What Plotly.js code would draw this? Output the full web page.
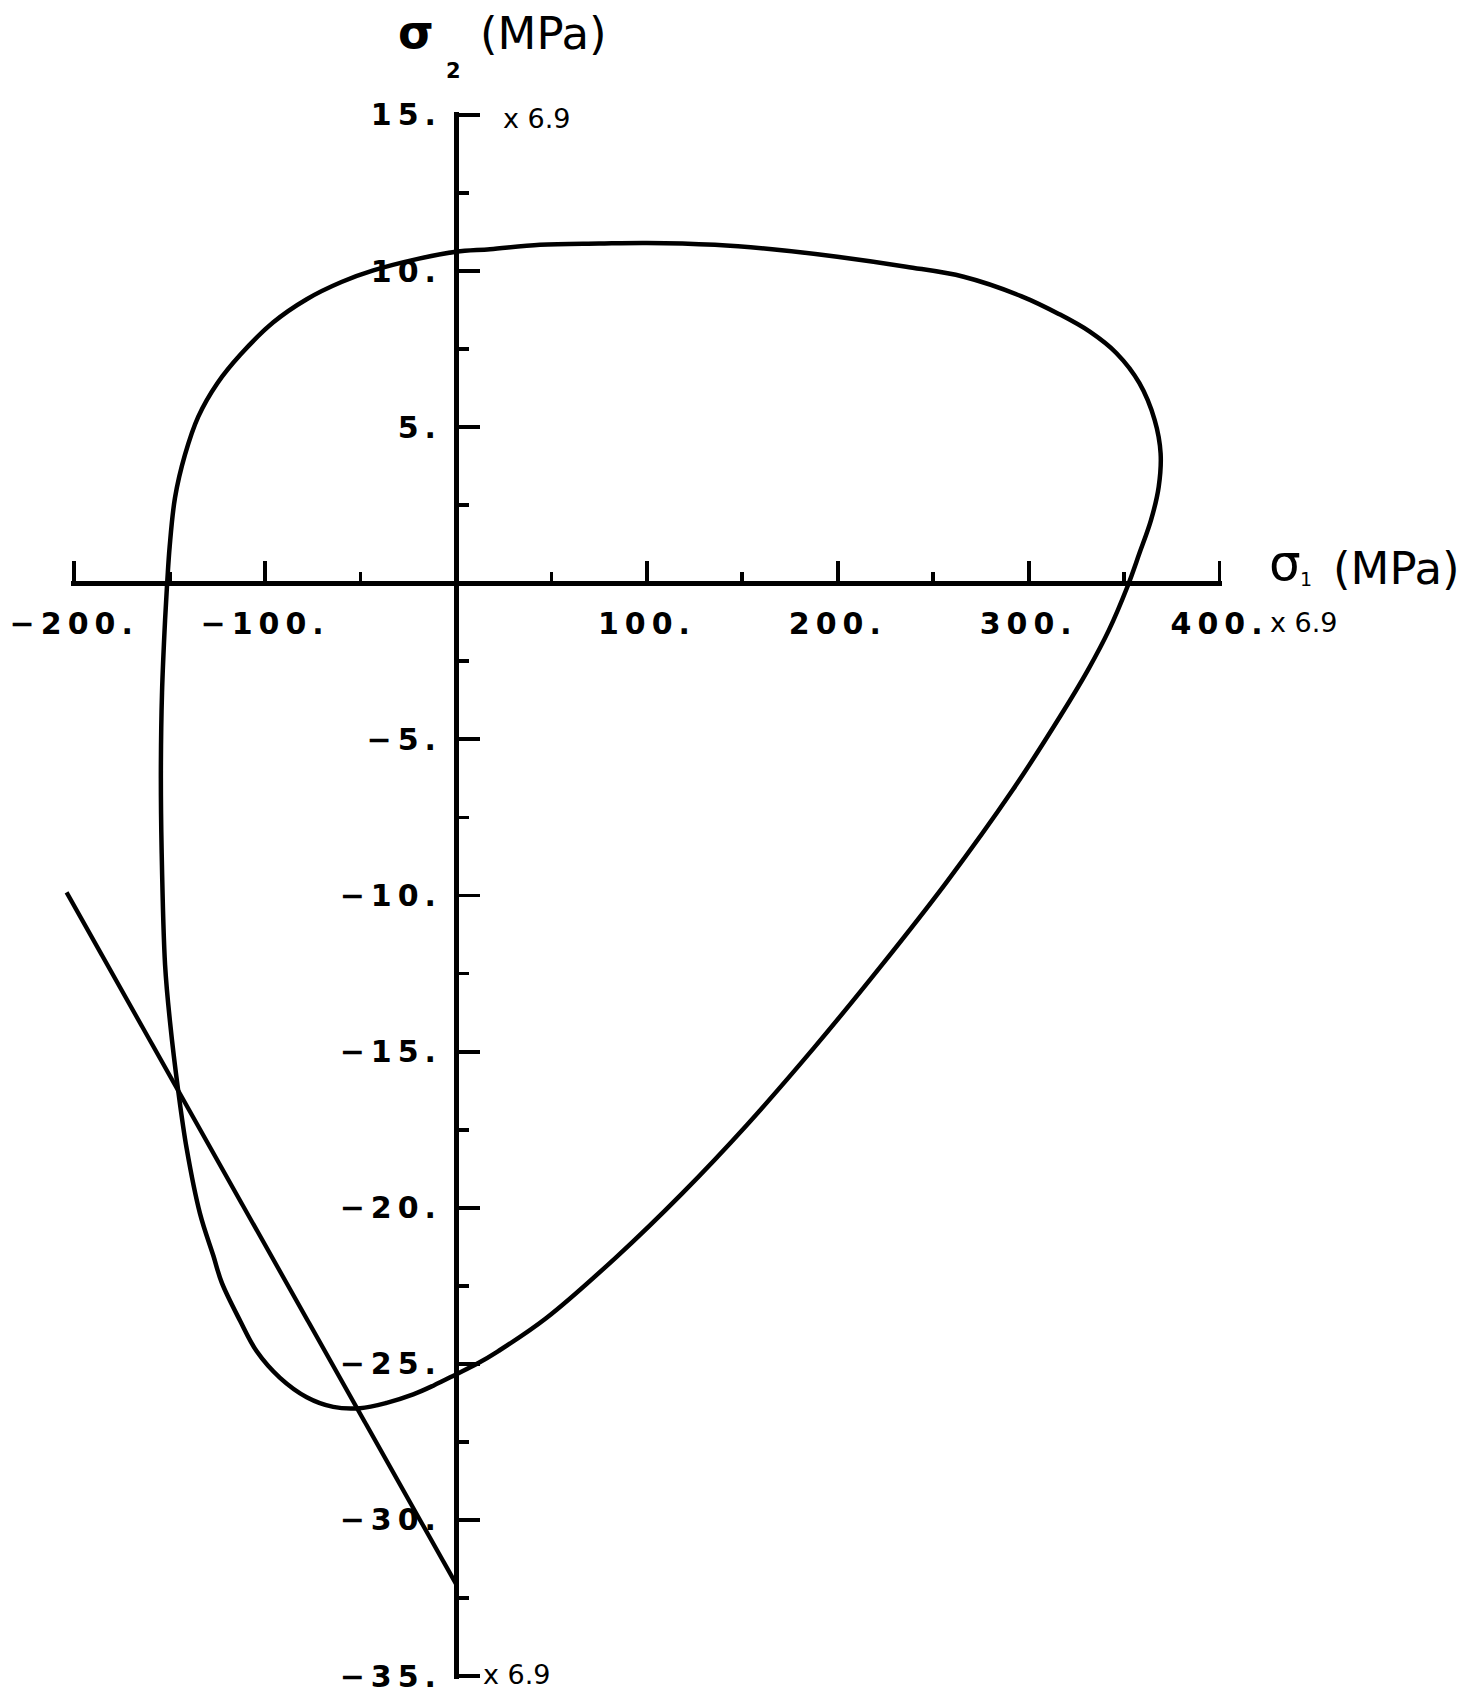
<!DOCTYPE html>
<html>
<head>
<meta charset="utf-8">
<script src="https://cdn.plot.ly/plotly-3.0.1.min.js"></script>
<style>
  html, body { margin: 0; padding: 0; background: #fff; }
  #chart { width: 1465px; height: 1695px; }
  /* wide, spaced-out tick numerals */
  g[class$="tick"] text { letter-spacing: 6px; }
</style>
</head>
<body>
<div id="chart"></div>
<script>
// Failure envelope in the (sigma1, sigma2) plane, units of ksi (x 6.9 = MPa)
const SIGMA1_LOOP = [-154.6, -154.0, -152.4, -151.2, -150.0, -147.2, -142.0, -135.0, -125.0, -113.0,
  -95.7, -78.2, -60.0, -43.3, -20.0, 0, 17.8, 44, 75, 100,
  135.6, 165.6, 199.7, 235.8, 265.9, 296, 316, 332, 346, 358,
  366, 369.1, 368.1, 364.1, 358, 351.7, 342, 331, 316.5, 291.5,
  257, 222.5, 187.5, 152.5, 118.5, 84, 47, 22, 11, 0,
  -11.9, -22.4, -36.3, -50.3, -64.3, -78.2, -92.2, -104.4, -113.1, -122.7,
  -127.1, -134.1, -141.1, -145.5, -149.8, -152.4, -154.2, -154.6];
const SIGMA2_LOOP = [-6.0, -3.5, -1.18, 0.1, 1.17, 2.74, 4.11, 5.34, 6.41, 7.32,
  8.36, 9.1, 9.65, 10.02, 10.39, 10.62, 10.7, 10.84, 10.88, 10.9,
  10.84, 10.7, 10.46, 10.14, 9.82, 9.2, 8.62, 8.06, 7.37, 6.41,
  5.23, 4.16, 3.09, 2.03, 0.96, -0.11, -1.5, -2.78, -4.26, -6.63,
  -9.57, -12.27, -14.88, -17.34, -19.54, -21.58, -23.55, -24.6, -25.0, -25.34,
  -25.7, -25.98, -26.25, -26.42, -26.38, -26.07, -25.45, -24.6, -23.62, -22.4,
  -21.54, -20.19, -18.1, -16.26, -14.05, -12.22, -8.54, -6.0];

// Straight load line
const SIGMA1_LINE = [-204, 0];
const SIGMA2_LINE = [-9.9, -32.05];

// Axis ticks and labels
const X_TICKS = [-200, -100, 100, 200, 300, 400];
const X_TICK_TEXT = ["\u2212200.", "\u2212100.", "100.", "200.", "300.", "400."];
const X_MINOR = [-150, -50, 50, 150, 250, 350];
const Y_TICKS = [15, 10, 5, -5, -10, -15, -20, -25, -30, -35];
const Y_TICK_TEXT = ["15.", "10.", "5.", "\u22125.", "\u221210.", "\u221215.", "\u221220.", "\u221225.", "\u221230.", "\u221235."];
const Y_MINOR = [12.5, 7.5, 2.5, -2.5, -7.5, -12.5, -17.5, -22.5, -27.5, -32.5];

const W = 1465, H = 1695;
// full-page data window (drawing area spans the whole page)
const X_FULL = [-238.87, 528.55];
const Y_FULL = [-35.608, 18.683];
// axis lines run a hair past the end ticks so those ticks are kept
const X_AXIS = [-201.5, 401.5];
const Y_AXIS = [-35.1, 15.1];
const fx = v => (v - X_FULL[0]) / (X_FULL[1] - X_FULL[0]);
const fy = v => (v - Y_FULL[0]) / (Y_FULL[1] - Y_FULL[0]);
// page pixel -> paper fraction
const P = (px, py) => ({ x: px / W, y: 1 - py / H, xref: 'paper', yref: 'paper' });

const tickFont = { family: 'DejaVu Sans', size: 30, color: '#000', weight: 'bold' };
const ink = '#000';

const traces = [
  {
    x: SIGMA1_LOOP, y: SIGMA2_LOOP, xaxis: 'x', yaxis: 'y',
    mode: 'lines', line: { color: ink, width: 4.5, shape: 'spline', smoothing: 1.0 },
    hoverinfo: 'skip', showlegend: false
  },
  {
    x: SIGMA1_LINE, y: SIGMA2_LINE, xaxis: 'x', yaxis: 'y',
    mode: 'lines', line: { color: ink, width: 4.3 },
    hoverinfo: 'skip', showlegend: false
  },
  { x: [], y: [], xaxis: 'x2', yaxis: 'y2', mode: 'lines', hoverinfo: 'skip', showlegend: false }
];

function ann(text, px, py, size, opts) {
  return Object.assign(P(px, py), {
    text: text, showarrow: false,
    font: Object.assign({ family: 'DejaVu Sans', size: size, color: ink }, (opts && opts.font) || {}),
    xanchor: (opts && opts.xanchor) || 'center', yanchor: 'middle'
  });
}

const layout = {
  width: W, height: H,
  margin: { l: 0, r: 0, t: 0, b: 0, pad: 0 },
  paper_bgcolor: '#fff', plot_bgcolor: 'rgba(0,0,0,0)',
  showlegend: false,
  xaxis: { domain: [0, 1], range: X_FULL, visible: false, fixedrange: true },
  yaxis: { domain: [0, 1], range: Y_FULL, visible: false, fixedrange: true },
  xaxis2: {
    domain: [fx(X_AXIS[0]), fx(X_AXIS[1])], range: X_AXIS, anchor: 'free', position: fy(0),
    side: 'bottom', showline: true, linewidth: 4.5, linecolor: ink,
    showgrid: false, zeroline: false, fixedrange: true,
    tickmode: 'array', tickvals: X_TICKS, ticktext: X_TICK_TEXT,
    ticks: 'inside', ticklen: 20, tickwidth: 3.8, tickcolor: ink,
    tickfont: tickFont, ticklabelstandoff: 12,
    minor: { tickmode: 'array', tickvals: X_MINOR, ticks: 'inside', ticklen: 9, tickwidth: 3.8, tickcolor: ink, showgrid: false }
  },
  yaxis2: {
    domain: [fy(Y_AXIS[0]), fy(Y_AXIS[1])], range: Y_AXIS, anchor: 'free', position: fx(0),
    side: 'left', showline: true, linewidth: 4.5, linecolor: ink,
    showgrid: false, zeroline: false, fixedrange: true,
    tickmode: 'array', tickvals: Y_TICKS, ticktext: Y_TICK_TEXT,
    ticks: 'inside', ticklen: 21, tickwidth: 3.8, tickcolor: ink,
    tickfont: tickFont, ticklabelstandoff: 6,
    minor: { tickmode: 'array', tickvals: Y_MINOR, ticks: 'inside', ticklen: 10, tickwidth: 3.8, tickcolor: ink, showgrid: false }
  },
  annotations: [
    // vertical axis title: sigma_2 (MPa)
    ann('<b>\u03c3</b>', 416, 32, 46),
    ann('<b>2</b>', 453, 71, 21),
    ann('(MPa)', 543, 34, 45),
    // horizontal axis title: sigma_1 (MPa)
    ann('\u03c3', 1285, 563, 50),
    ann('1', 1306, 579, 19),
    ann('(MPa)', 1396, 568, 45),
    // scale factors at the axis ends
    ann('x 6.9', 501, 118, 27, { xanchor: 'left' }),
    ann('x 6.9', 481, 1674, 27, { xanchor: 'left' }),
    ann('x 6.9', 1268, 622, 27, { xanchor: 'left' })
  ]
};

Plotly.newPlot('chart', traces, layout, { displayModeBar: false, staticPlot: true });
</script>
</body>
</html>
